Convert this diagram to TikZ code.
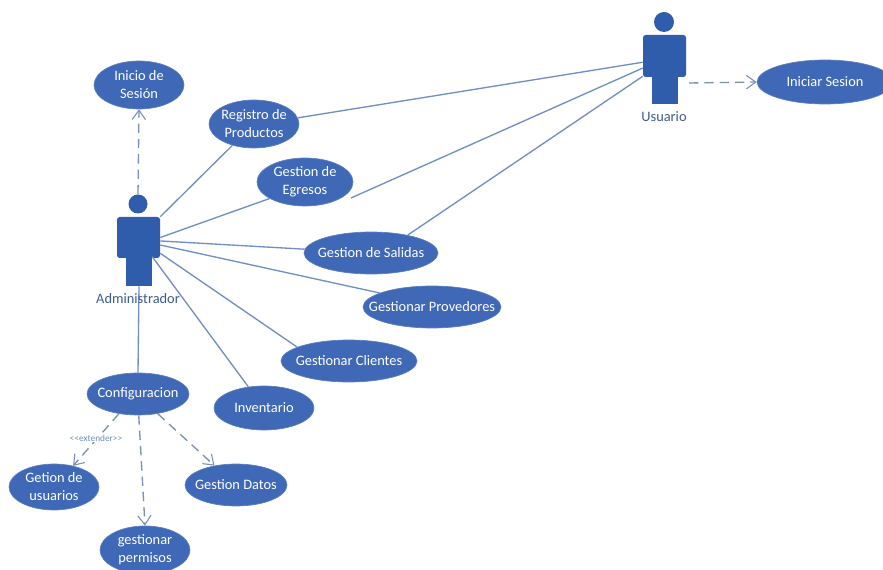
\documentclass[tikz,border=0pt]{standalone}
\usepackage{fontspec}
\setmainfont{Carlito}
\usetikzlibrary{arrows.meta,shapes.geometric}
\definecolor{ucfill}{HTML}{3F68B6}
\definecolor{actorfill}{HTML}{2F5DAC}
\definecolor{linkcol}{HTML}{6F8FC6}
\definecolor{dashcol}{HTML}{7C8FB4}
\definecolor{labelcol}{HTML}{3D5C8F}
\tikzset{
  uc/.style 2 args={ellipse,draw=ucfill!85!white,line width=.5pt,fill=ucfill,text=white,inner sep=-40pt,align=center,
    font=\fontsize{10.8}{13.5}\selectfont,minimum width=#1*.75pt,minimum height=#2*.75pt},
  actorpart/.style 2 args={rectangle,fill=actorfill,inner sep=0pt,minimum width=#1*.75pt,minimum height=#2*.75pt},
  actorhead/.style={circle,fill=actorfill,inner sep=0pt,minimum size=#1*.75pt},
  actorlabel/.style={text=labelcol,inner sep=0pt,font=\fontsize{10.8}{12}\selectfont},
  link/.style={draw=linkcol,line width=1pt},
  dep/.style={draw=dashcol,line width=1pt,dash pattern=on 7pt off 4.5pt,-{Straight Barb[length=7pt,width=10pt,line width=.8pt]}},
  stereo/.style={text=linkcol,fill=white,inner sep=.5pt,font=\fontsize{7}{8}\selectfont}
}
\begin{document}
\begin{tikzpicture}[x=.75pt,y=-.75pt]
\useasboundingbox[fill=white] (0,0) rectangle (883,570);
% use cases
\node[uc={90}{48}] (inicio) at (139,85) {Inicio de\\Sesión};
\node[uc={90}{48}] (reg) at (254,124) {Registro de\\Productos};
\node[uc={96}{48}] (egr) at (305,182) {Gestion de\\Egresos};
\node[uc={134}{42}] (sal) at (371,253) {Gestion de Salidas};
\node[uc={138}{42}] (prov) at (432,307) {Gestionar Provedores};
\node[uc={136}{42}] (cli) at (349,361) {Gestionar Clientes};
\node[uc={100}{44}] (inv) at (264,408) {Inventario};
\node[uc={102}{42}] (conf) at (138,394) {Configuracion};
\node[uc={90}{46}] (usu) at (54,487) {Getion de\\usuarios};
\node[uc={102}{42}] (dat) at (236,485) {Gestion Datos};
\node[uc={90}{48}] (perm) at (145,550) {gestionar\\permisos};
\node[uc={136}{44}] (ini) at (825,82) {Iniciar Sesion};
% administrador actor
\node[actorhead=19] (ahead) at (138,204) {};
\node[actorpart={43}{41},rounded corners=2pt] (aarm) at (138.5,237.5) {};
\node[actorpart={26}{29}] (aleg) at (139,271.5) {};
% usuario actor
\node[actorhead=20] (uhead) at (664,22) {};
\node[actorpart={43}{42},rounded corners=2pt] (uarm) at (664.5,56) {};
\node[actorpart={26}{28}] (uleg) at (665,90) {};
\coordinate (egrfree) at (351,198);
\coordinate (ufree) at (689,83);
\coordinate (stereopos) at (96,438);
% connectors
\draw[link] (aarm.north east) -- (reg);
\draw[link] (aarm.east) -- (egr.205);
\draw[link] (aarm.-9) -- (sal);
\draw[link] (aarm.-19) -- (prov.165);
\draw[link] (aarm.-36) -- (cli.165);
\draw[link] (aleg.north east) -- (inv);
\draw[link] (aleg.south) -- (conf.north);
\draw[link] (reg.8) -- (uarm.196);
\draw[link] (egrfree) -- (uarm.209);
\draw[link] (sal.26) -- (uarm.223);
\draw[dep] (ahead.north) -- (inicio.south);
\draw[dep] (ufree) -- (ini.west);
\draw[dep] (conf.226) -- (usu.48);
\draw[dep] (conf.-88) -- (perm.north);
\draw[dep] (conf.-45) -- (dat.138);
\node[stereo] (stereolab) at (stereopos) {<{}<extender>{}>};
% actor captions
\node[actorlabel] (alab) at (138,299) {Administrador};
\node[actorlabel] (ulab) at (664,117) {Usuario};
\end{tikzpicture}
\end{document}
